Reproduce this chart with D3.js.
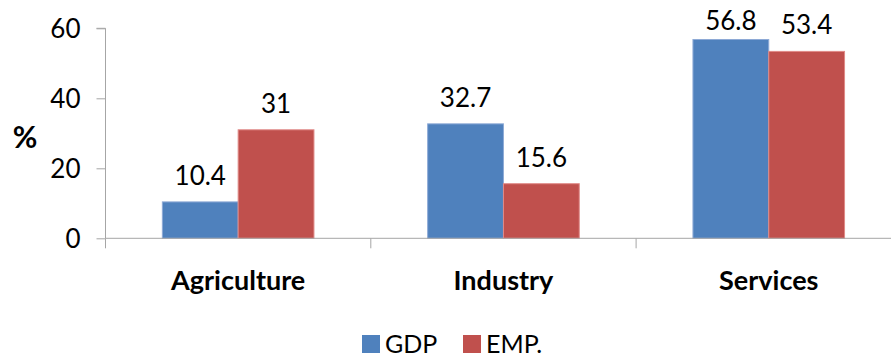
<!DOCTYPE html>
<html><head><meta charset="utf-8">
<script src="https://cdn.jsdelivr.net/npm/d3@7"></script>
<style>
html,body{margin:0;padding:0;background:#fff;}
text{font-family:Lato,"Open Sans",sans-serif;fill:#000;}
</style></head>
<body><svg id="c" width="891" height="358"></svg>
<script>
const categories = ["Agriculture", "Industry", "Services"];
const seriesNames = ["GDP", "EMP."];
const gdpValues = [10.4, 32.7, 56.8];
const empValues = [31, 15.6, 53.4];
const yTicks = [0, 20, 40, 60];
const colors = ["#4F81BD", "#C0504D"];
const strokes = ["#8EAAD6", "#E08A88"];

const svg = d3.select("#c");
const pLeft = 105.5, pRight = 901.4, pTop = 28.3, pBottom = 238.3;
const x = d3.scaleBand().domain(categories).range([pLeft, pRight]).padding(0);
const xs = d3.scaleBand().domain(seriesNames).range([0, x.bandwidth()]).paddingInner(0).paddingOuter(0.75);
const y = d3.scaleLinear().domain([0, 60]).range([pBottom, pTop]);

const data = categories.map((c, i) => ({cat: c, vals: [gdpValues[i], empValues[i]]}));

// y axis
const yAx = svg.append("g").attr("transform", `translate(${pLeft},0)`)
  .call(d3.axisLeft(y).tickValues(yTicks).tickSize(9).tickPadding(16).tickFormat(d3.format("d")));
yAx.select(".domain").attr("stroke", "#A6A6A6").attr("d", `M-9,${pTop}H0V${pBottom}`);
yAx.selectAll(".tick line").attr("stroke", "#A6A6A6");
yAx.selectAll(".tick text").style("font-size", "26px").attr("dy", "0.35em");

// bars
const g = svg.append("g");
data.forEach(d => {
  d.vals.forEach((v, j) => {
    const bx = x(d.cat) + xs(seriesNames[j]);
    g.append("rect").attr("x", bx).attr("y", y(v)).attr("width", xs.bandwidth())
      .attr("height", y(0) - y(v)).attr("fill", colors[j]).attr("stroke", strokes[j]).attr("stroke-width", 1);
    g.append("text").attr("x", bx + xs.bandwidth() / 2).attr("y", Math.max(y(v) - 17, 30))
      .attr("text-anchor", "middle").style("font-size", "26px").text(v);
  });
});

// x axis
const xAx = svg.append("g").attr("transform", `translate(0,${pBottom})`)
  .call(d3.axisBottom(x).tickSize(0).tickPadding(42));
xAx.select(".domain").attr("stroke", "#A6A6A6").attr("d", `M${pLeft},0H${pRight}`);
xAx.selectAll(".tick text").style("font-size", "27px").style("font-weight", "bold").attr("dy", "0.35em");
const bounds = categories.map(c => x(c)).concat([pRight]);
svg.append("g").selectAll("line").data(bounds).join("line")
  .attr("x1", d => d).attr("x2", d => d).attr("y1", pBottom).attr("y2", pBottom + 10)
  .attr("stroke", "#A6A6A6");

// y title
svg.append("text").attr("x", 25).attr("y", 148).attr("text-anchor", "middle")
  .style("font-size", "30px").style("font-weight", "bold").text("%");

// legend
const legX = [362, 463];
const lg = svg.append("g");
seriesNames.forEach((n, j) => {
  lg.append("rect").attr("x", legX[j]).attr("y", 335).attr("width", 18).attr("height", 18).attr("fill", colors[j]);
  lg.append("text").attr("x", legX[j] + 23).attr("y", 353).style("font-size", "25px").text(n);
});
</script></body></html>
